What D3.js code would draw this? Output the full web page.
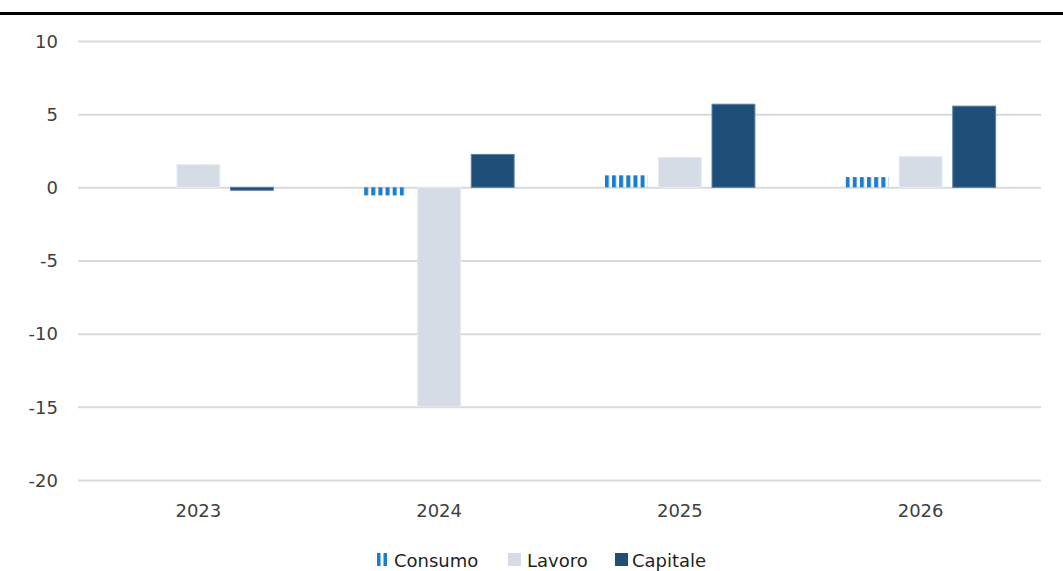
<!DOCTYPE html>
<html><head><meta charset="utf-8">
<script src="https://cdn.jsdelivr.net/npm/d3@7"></script>
<style>body{margin:0;background:#fff;}svg{display:block;}</style>
</head><body>
<script>
const categories = ["2023","2024","2025","2026"];
const seriesNames = ["Consumo","Lavoro","Capitale"];
const consumo = [0, -0.55, 0.82, 0.7];
const lavoro = [1.55, -15, 2.04, 2.1];
const capitale = [-0.2, 2.25, 5.68, 5.55];
const yTicks = [10,5,0,-5,-10,-15,-20];
const colors = {Consumo:"#1a7dd0", Lavoro:"#d6dce5", Capitale:"#1f4e79"};

const W=1063,H=571;
const FONT="'DejaVu Sans',Verdana,sans-serif";
const svg=d3.select("body").append("svg").attr("width",W).attr("height",H);
const defs=svg.append("defs");
const pat=defs.append("pattern").attr("id","stripes").attr("patternUnits","objectBoundingBox")
  .attr("width",1/6).attr("height",1);
pat.append("rect").attr("x",0).attr("y",-500).attr("width",4).attr("height",1000).attr("fill",colors.Consumo);

// top rule
svg.append("rect").attr("x",0).attr("y",12).attr("width",W).attr("height",3).attr("fill","#000");

const x=d3.scaleBand().domain(categories).range([78,1041]);
const y=d3.scaleLinear().domain([-20,10]).range([480,41]);
const xs=d3.scaleBand().domain(seriesNames).range([0,150]).paddingInner(0.2);

svg.append("g").selectAll("line").data(yTicks).join("line")
  .attr("x1",78).attr("x2",1041).attr("y1",d=>y(d)+0.5).attr("y2",d=>y(d)+0.5)
  .attr("stroke","#d9d9d9").attr("stroke-width",2);

const yAxis=d3.axisLeft(y).tickValues(yTicks).tickSize(0).tickPadding(0).tickFormat(d=>d);
const ga=svg.append("g").attr("transform","translate(58,0)").call(yAxis);
ga.select(".domain").remove();
ga.selectAll("text").attr("font-family",FONT).attr("font-size",18).attr("fill","#404040").attr("dy","0.35em");

const data={Consumo:consumo,Lavoro:lavoro,Capitale:capitale};
const gb=svg.append("g");
seriesNames.forEach(s=>{
  gb.selectAll(null).data(categories.map((c,i)=>({c,v:data[s][i]}))).join("rect")
    .filter(d=>d.v!==0)
    .attr("x",d=>x(d.c)+x.bandwidth()/2-75+xs(s))
    .attr("width",xs.bandwidth())
    .attr("y",d=>y(Math.max(0,d.v)))
    .attr("height",d=>Math.abs(y(d.v)-y(0)))
    .attr("fill",s==="Consumo"?"url(#stripes)":colors[s])
    .attr("stroke",s==="Consumo"?"none":(s==="Capitale"?"#5a7fa3":"#e6eaf0"))
    .attr("stroke-width",1);
});

const xAxis=d3.axisBottom(x).tickSize(0).tickPadding(0);
const gx=svg.append("g").attr("transform","translate(0,511)").call(xAxis);
gx.select(".domain").remove();
gx.selectAll("text").attr("font-family",FONT).attr("font-size",18).attr("fill","#404040").attr("dy","0.35em");

// legend
const leg=svg.append("g").attr("font-family",FONT).attr("font-size",18).attr("fill","#1f1f1f");
const legPos=[{s:"Consumo",mx:377,tx:394},{s:"Lavoro",mx:508,tx:527},{s:"Capitale",mx:615,tx:632}];
legPos.forEach(p=>{
  if(p.s==="Consumo"){
    leg.append("rect").attr("x",p.mx).attr("y",553).attr("width",3.5).attr("height",13).attr("fill",colors.Consumo);
    leg.append("rect").attr("x",p.mx+6.5).attr("y",553).attr("width",3.5).attr("height",13).attr("fill",colors.Consumo);
  } else {
    leg.append("rect").attr("x",p.mx).attr("y",553).attr("width",13).attr("height",13).attr("fill",colors[p.s]);
  }
  leg.append("text").attr("x",p.tx).attr("y",561).attr("dy","0.35em").text(p.s);
});
</script>
</body></html>
